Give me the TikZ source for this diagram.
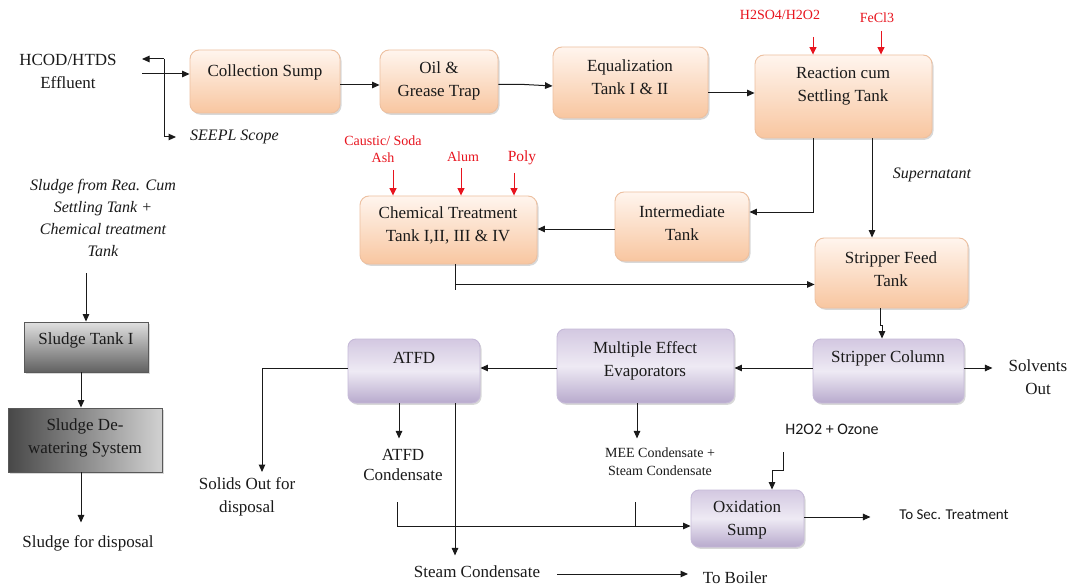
\documentclass[tikz,border=0pt]{standalone}
\usepackage{fontspec}
\setmainfont{Liberation Serif}
\newfontfamily\carl{Carlito}
\usetikzlibrary{arrows.meta,shadows,fit,calc}
\definecolor{pk1}{HTML}{FFF5EE}
\definecolor{pk2}{HTML}{F8C6A0}
\definecolor{pkd}{HTML}{EDC0A0}
\definecolor{pu1}{HTML}{D3C8E1}
\definecolor{pu2}{HTML}{EEEAF4}
\definecolor{pu3}{HTML}{B8AACD}
\definecolor{pud}{HTML}{C6BAD8}
\definecolor{rd}{HTML}{E8141E}
\definecolor{ink}{HTML}{1A1A1A}
\begin{document}
\begin{tikzpicture}[x=1pt,y=-1pt,
  >={Triangle[length=7.5pt,width=6.5pt]},
  shad/.style={drop shadow={shadow xshift=1.5pt,shadow yshift=-1.8pt,opacity=0.3}},
  peach/.style={draw=pkd,line width=0.9pt,rounded corners=9pt,top color=pk1,bottom color=pk2,inner sep=0pt,shad},
  purp/.style={draw=pud,line width=0.9pt,rounded corners=8pt,top color=pu1,bottom color=pu3,middle color=pu2,inner sep=0pt,shad},
  greyA/.style={draw=black!65,line width=0.9pt,top color=black!12,bottom color=black!62,inner sep=0pt,shad},
  greyB/.style={draw=black!65,line width=0.9pt,left color=black!72,right color=black!18,inner sep=0pt,shad},
  btxt/.style={font=\fontsize{17}{23}\selectfont,text=ink,align=center,inner sep=0pt},
  itxt/.style={font=\fontsize{16}{22}\selectfont\itshape,text=ink,align=center,inner sep=0pt},
  redt/.style={font=\fontsize{14}{16.5}\selectfont,text=rd,align=center,inner sep=0pt},
  arr/.style={->,line width=1pt,draw=ink},
  ln/.style={line width=1pt,draw=ink},
  redarr/.style={->,line width=1pt,draw=rd,>={Triangle[length=7.5pt,width=7pt]}}]
\useasboundingbox (0,0) rectangle (1070,588);
\fill[white] (0,0) rectangle (1070,588);

% ---------- boxes ----------
\node[peach, fit={(190,50)(340,113)}] (cs) {};
\node[btxt] (cst) at (265,72) {Collection Sump};
\node[peach, fit={(380,50)(498,113)}] (og) {};
\node[btxt] (ogt) at (439,81) {Oil \&\\Grease Trap};
\node[peach, fit={(553,47)(708,118)}] (eq) {};
\node[btxt] (eqt) at (630,77) {Equalization\\Tank I \& II};
\node[peach, fit={(755,55)(932,138)}] (rc) {};
\node[btxt] (rct) at (843,86) {Reaction cum\\Settling Tank};
\node[peach, fit={(360,196)(537,264)}] (ct) {};
\node[btxt] (ctt) at (448,225) {Chemical Treatment\\Tank I,II, III \& IV};
\node[peach, fit={(615,192)(749,261)}] (it) {};
\node[btxt] (itt) at (682,223) {Intermediate\\Tank};
\node[peach, fit={(815,238)(968,308)}] (sf) {};
\node[btxt] (sft) at (891,269) {Stripper Feed\\Tank};
\node[purp, fit={(813,339)(964,403)}] (col) {};
\node[btxt] (colt) at (888,358) {Stripper Column};
\node[purp, fit={(557,329)(734,403)}] (mee) {};
\node[btxt] (meet) at (645,361) {Multiple Effect\\Evaporators};
\node[purp, fit={(348,339)(480,403)}] (atfd) {};
\node[btxt] (atfdt) at (414,358) {ATFD};
\node[purp, fit={(691,490)(804,547)}] (os) {};
\node[btxt] (ost) at (747,520) {Oxidation\\Sump};
\node[greyA, fit={(24,322)(148,372)}] (st1) {};
\node[btxt] (st1t) at (86,340) {Sludge Tank I};
\node[greyB, fit={(8,408)(162,472)}] (dw) {};
\node[btxt] (dwt) at (85,438) {Sludge De-\\watering System};

% ---------- free texts ----------
\node[btxt] (inp) at (68,71) {HCOD/HTDS\\Effluent};
\node[itxt, anchor=west] (sc) at (190,137) {SEEPL Scope};
\node[itxt] (sl) at (103,218) {Sludge from Rea. Cum\\Settling Tank +\\Chemical treatment\\Tank};
\node[btxt] (sfd) at (88,543) {Sludge for disposal};
\node[redt] (h2s) at (780,15) {H2SO4/H2O2};
\node[redt] (fec) at (877,18) {FeCl3};
\node[redt] (cau) at (383,149) {Caustic/ Soda\\Ash};
\node[redt] (alu) at (463,157) {Alum};
\node[redt, font=\fontsize{15.5}{17}\selectfont] (pol) at (522,158) {Poly};
\node[itxt] (sup) at (932,175) {Supernatant};
\node[btxt] (solv) at (1038,377) {Solvents\\Out};
\node[btxt] (sod) at (247,497) {Solids Out for\\disposal};
\node[btxt, font=\fontsize{17}{20}\selectfont] (ac) at (403,465) {ATFD\\Condensate};
\node[btxt, font=\fontsize{14}{18}\selectfont] (mc) at (660,462) {MEE Condensate +\\Steam Condensate};
\node[btxt] (stc) at (477,572) {Steam Condensate};
\node[btxt] (tb) at (735,578) {To Boiler};
\node[btxt, font=\fontsize{16}{20}\carl] (hz) at (832,429) {H2O2 + Ozone};
\node[btxt, font=\fontsize{15}{20}\carl] (sec) at (954,515) {To Sec. Treatment};

% ---------- connectors ----------
\coordinate (inA) at (142,74);
\draw[arr] (inA) -- ([yshift=7.5pt]cs.west);
\coordinate (sj) at (164,59);
\coordinate (inB) at (142,59);
\draw[arr] (sj) -- (inB);
\draw[arr] (sj) |- ([xshift=-14pt]sc.west);

\draw[arr] ([yshift=-3.5pt]cs.east) -- ([yshift=-3.5pt]og.west);
\draw[arr] ([yshift=-3pt]og.east) -- ++(26,0) -- ([yshift=-3.5pt]eq.west);
\draw[arr] ([yshift=-10.5pt]eq.east) -- ([yshift=3.5pt]rc.west);

\coordinate (r1) at (813,37);
\draw[redarr] (r1) -- (r1 |- rc.north);
\coordinate (r2) at (881,31);
\draw[redarr] (r2) -- (r2 |- rc.north);
\coordinate (r3) at (393,170);
\draw[redarr] (r3) -- (r3 |- ct.north);
\coordinate (r4) at (461,168);
\draw[redarr] (r4) -- (r4 |- ct.north);
\coordinate (r5) at (514,173);
\draw[redarr] (r5) -- (r5 |- ct.north);

\coordinate (rcb1) at ([xshift=-30.5pt]rc.south);
\draw[arr] (rcb1) |- ([yshift=14.5pt]it.east);
\coordinate (rcb2) at ([xshift=28.5pt]rc.south);
\draw[arr] (rcb2) -- (rcb2 |- sf.north);
\coordinate (itw) at ([yshift=-2.5pt]it.west);
\draw[arr] (itw) -- (itw -| ct.east);

\coordinate (ctb) at ([xshift=6.5pt]ct.south);
\coordinate (ctj) at ([yshift=-20pt]ctb);
\draw[ln] (ctb) -- ++(0,26);
\draw[arr] (ctj) -- (ctj -| sf.west);

\coordinate (sfb) at ([xshift=-11.5pt]sf.south);
\draw[arr] (sfb) -- ++(0,17) -| ([xshift=-6.5pt]col.north);
\coordinate (cle) at ([yshift=3pt]col.east);
\draw[arr] (cle) -- ++(28,0);
\coordinate (clw) at ([yshift=3pt]col.west);
\draw[arr] (clw) -- (clw -| mee.east);
\coordinate (mw) at ([yshift=-2pt]mee.west);
\draw[arr] (mw) -- (mw -| atfd.east);

\coordinate (aw) at ([yshift=3pt]atfd.west);
\coordinate (solA) at (262,472);
\draw[arr] (aw) -| (solA);
\coordinate (ab1) at ([xshift=-15pt]atfd.south);
\draw[arr] (ab1) -- ++(0,35);
\coordinate (ab2) at ([xshift=41pt]atfd.south);
\draw[arr] (ab2) -- ++(0,152);
\coordinate (sa) at (557,574);
\coordinate (sb) at (688,574);
\draw[arr] (sa) -- (sb);

\coordinate (c1) at (397,502);
\draw[arr] (c1) |- ([yshift=-7.5pt]os.west);
\coordinate (c2) at (635,502);
\draw[ln] (c2) -- ++(0,24);
\coordinate (mb) at ([xshift=-8.5pt]mee.south);
\draw[arr] (mb) -- ++(0,35);

\coordinate (h1) at (783,452);
\draw[arr] (h1) -- ++(0,18) -| ([xshift=24.5pt]os.north);
\coordinate (oe) at ([yshift=1.5pt]os.east);
\draw[arr] (oe) -- ++(66,0);

\coordinate (s0) at (86,273);
\draw[arr] (s0) -- (s0 |- st1.north);
\coordinate (s1) at ([xshift=-5pt]st1.south);
\draw[arr] (s1) -- (s1 |- dw.north);
\coordinate (s2) at ([xshift=-4pt]dw.south);
\draw[arr] (s2) -- ++(0,50);
\end{tikzpicture}
\end{document}
